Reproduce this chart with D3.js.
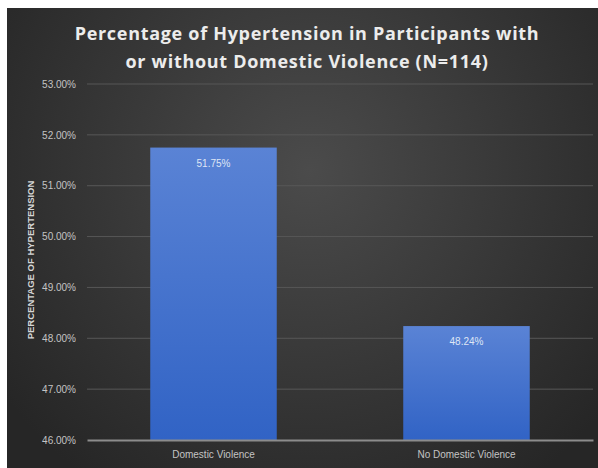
<!DOCTYPE html>
<html>
<head>
<meta charset="utf-8">
<script src="https://cdn.jsdelivr.net/npm/d3@7/dist/d3.min.js"></script>
<style>
  html, body { margin: 0; padding: 0; background: #ffffff; }
  svg { display: block; }
</style>
</head>
<body>
<script>
// Chart data
const categories = ["Domestic Violence", "No Domestic Violence"];
const values = [51.75, 48.24];
const valueLabels = ["51.75%", "48.24%"];
const yTicks = [46, 47, 48, 49, 50, 51, 52, 53];
const titleLines = ["Percentage of Hypertension in Participants with", "or without Domestic Violence (N=114)"];
const yAxisTitle = "PERCENTAGE OF HYPERTENSION";

const W = 598, H = 468;
const frame = { x: 7, y: 8 };
const plot = { left: 87, right: 593, top: 84, bottom: 440 };

const svg = d3.select("body").append("svg")
  .attr("width", W).attr("height", H);

const defs = svg.append("defs");
const bg = defs.append("radialGradient")
  .attr("id", "bgGrad")
  .attr("gradientUnits", "userSpaceOnUse")
  .attr("cx", 310).attr("cy", 170).attr("r", 380);
bg.append("stop").attr("offset", "0%").attr("stop-color", "#4b4b4b");
bg.append("stop").attr("offset", "100%").attr("stop-color", "#262626");

const barGrad = defs.append("linearGradient")
  .attr("id", "barGrad").attr("x1", 0).attr("y1", 0).attr("x2", 0).attr("y2", 1);
barGrad.append("stop").attr("offset", "0%").attr("stop-color", "#5a83d5");
barGrad.append("stop").attr("offset", "100%").attr("stop-color", "#3163c5");

// Chart frame
svg.append("rect")
  .attr("x", frame.x).attr("y", frame.y)
  .attr("width", W - frame.x).attr("height", H - frame.y)
  .attr("fill", "url(#bgGrad)");

// Title
svg.append("g").selectAll("text")
  .data(titleLines)
  .join("text")
  .attr("x", 307)
  .attr("y", (d, i) => 40 + i * 28)
  .attr("text-anchor", "middle")
  .attr("font-family", "'Open Sans', sans-serif")
  .attr("font-weight", "bold")
  .attr("font-size", 18)
  .attr("letter-spacing", 0.7)
  .attr("fill", "#ececec")
  .text(d => d);

// Scales
const x = d3.scaleBand()
  .domain(categories)
  .range([plot.left, plot.right])
  .paddingInner(0.5)
  .paddingOuter(0.25);

const y = d3.scaleLinear()
  .domain([46, 53])
  .range([plot.bottom, plot.top]);

// Gridlines
svg.append("g")
  .selectAll("line")
  .data(yTicks.filter(t => t !== 46))
  .join("line")
  .attr("x1", plot.left).attr("x2", plot.right)
  .attr("y1", d => y(d)).attr("y2", d => y(d))
  .attr("stroke", "#575757")
  .attr("stroke-width", 1);

// Y axis tick labels
const yAxis = d3.axisLeft(y)
  .tickValues(yTicks)
  .tickSize(0)
  .tickPadding(11)
  .tickFormat(d => d.toFixed(2) + "%");

const yG = svg.append("g")
  .attr("transform", `translate(${plot.left},0)`)
  .call(yAxis);
yG.select(".domain").remove();
yG.selectAll("text")
  .attr("font-family", "'Liberation Sans', Arial, sans-serif")
  .attr("font-size", 10)
  .attr("fill", "#c4c4c4");

// Bars
const barData = categories.map((c, i) => ({ c, v: values[i], label: valueLabels[i] }));

svg.append("g")
  .selectAll("rect")
  .data(barData)
  .join("rect")
  .attr("x", d => x(d.c))
  .attr("y", d => y(d.v))
  .attr("width", x.bandwidth())
  .attr("height", d => y(46) - y(d.v))
  .attr("fill", "url(#barGrad)");

// Value labels
svg.append("g")
  .selectAll("text")
  .data(barData)
  .join("text")
  .attr("x", d => x(d.c) + x.bandwidth() / 2)
  .attr("y", d => y(d.v) + 19)
  .attr("text-anchor", "middle")
  .attr("font-family", "'Liberation Sans', Arial, sans-serif")
  .attr("font-size", 10)
  .attr("fill", "#dfe6f5")
  .text(d => d.label);

// X axis
const xAxis = d3.axisBottom(x).tickSize(0).tickPadding(11);
const xG = svg.append("g")
  .attr("transform", `translate(0,${plot.bottom})`)
  .call(xAxis);
xG.select(".domain")
  .attr("stroke", "#8c8c8c")
  .attr("stroke-width", 2);
xG.selectAll("text")
  .attr("font-family", "'Liberation Sans', Arial, sans-serif")
  .attr("font-size", 10)
  .attr("fill", "#c4c4c4");

// Y axis title
svg.append("text")
  .attr("transform", `translate(34,260) rotate(-90)`)
  .attr("text-anchor", "middle")
  .attr("font-family", "'Liberation Sans', Arial, sans-serif")
  .attr("font-weight", "bold")
  .attr("font-size", 9.5)
  .attr("fill", "#d6d6d6")
  .text(yAxisTitle);
</script>
</body>
</html>
